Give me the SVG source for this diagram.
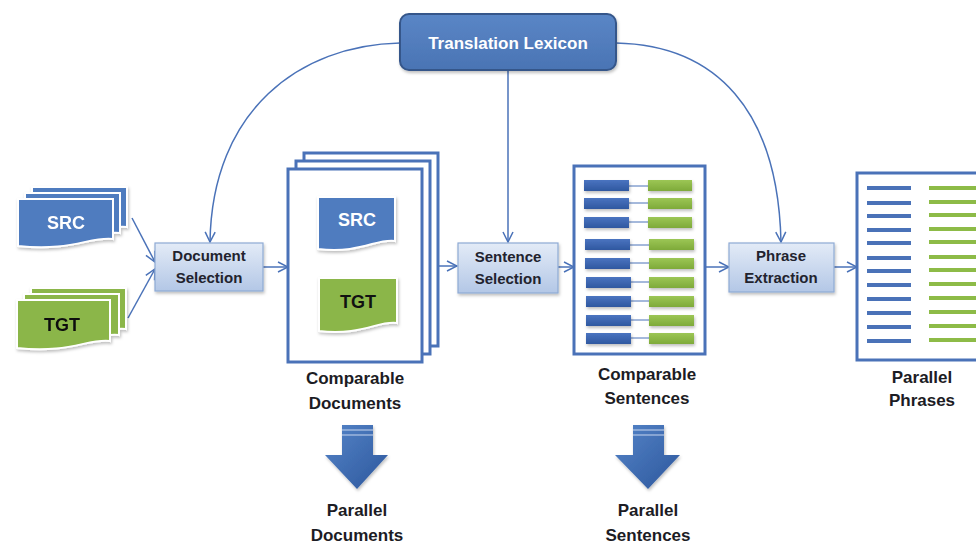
<svg xmlns="http://www.w3.org/2000/svg" width="976" height="548" viewBox="0 0 976 548">
<defs>
<linearGradient id="procG" x1="0" y1="0" x2="0" y2="1"><stop offset="0" stop-color="#e3ebf7"/><stop offset="1" stop-color="#b3c7e6"/></linearGradient>
<linearGradient id="lexG" x1="0" y1="0" x2="0" y2="1"><stop offset="0" stop-color="#5a86c6"/><stop offset="1" stop-color="#4a74b4"/></linearGradient>
<linearGradient id="blueBar" x1="0" y1="0" x2="0" y2="1"><stop offset="0" stop-color="#4a74c0"/><stop offset="1" stop-color="#2f58a0"/></linearGradient>
<linearGradient id="greenBar" x1="0" y1="0" x2="0" y2="1"><stop offset="0" stop-color="#9cc655"/><stop offset="1" stop-color="#7eaa3a"/></linearGradient>
<linearGradient id="bigArrow" x1="0" y1="0" x2="1" y2="1"><stop offset="0" stop-color="#5584c8"/><stop offset="1" stop-color="#2c579c"/></linearGradient>
<filter id="sh" x="-20%" y="-20%" width="140%" height="150%"><feDropShadow dx="1" dy="2" stdDeviation="1.5" flood-color="#000" flood-opacity="0.25"/></filter>
<marker id="arr" viewBox="0 0 12 12" refX="11" refY="6" markerWidth="12" markerHeight="12" markerUnits="userSpaceOnUse" orient="auto"><path d="M1,1 L11,6 L1,11" fill="none" stroke="#4a72b8" stroke-width="1.5"/></marker>
</defs>
<style>
.conn{fill:none;stroke:#4a72b8;stroke-width:1.5}
.proc{fill:url(#procG);stroke:#8eaad4;stroke-width:1.2}
.ptxt{font-family:"Liberation Sans",Arial,sans-serif;font-weight:bold;font-size:15px;fill:#22232e;text-anchor:middle}
.lbl{font-family:"Liberation Sans",Arial,sans-serif;font-weight:bold;font-size:17px;fill:#1c1c24;text-anchor:middle}
.doctxt{font-family:"Liberation Sans",Arial,sans-serif;font-weight:bold;font-size:18px;text-anchor:middle}
.srcf{fill:#4f7bbf;stroke:#ffffff;stroke-width:2}
.tgtf{fill:#8bb648;stroke:#ffffff;stroke-width:2}
.frame{fill:#ffffff;stroke:#4a72b8;stroke-width:3}
.bl{stroke:#4a72b8;stroke-width:4}
.gl{stroke:#8dbb47;stroke-width:4}
.link{stroke:#4a72b8;stroke-width:1}
</style>

<g id="connectors">
<path class="conn" d="M400,43 C300,45 212,110 210,242" marker-end="url(#arr)"/>
<path class="conn" d="M616,43 C716,45 778,110 781,242" marker-end="url(#arr)"/>
<path class="conn" d="M508,70 V242" marker-end="url(#arr)"/>
<path class="conn" d="M132,218 L155,262" marker-end="url(#arr)"/>
<path class="conn" d="M128,318 L155,269" marker-end="url(#arr)"/>
<path class="conn" d="M263,267 H288" marker-end="url(#arr)"/>
<path class="conn" d="M422,266 H457" marker-end="url(#arr)"/>
<path class="conn" d="M558,267 H574" marker-end="url(#arr)"/>
<path class="conn" d="M705,267 H729" marker-end="url(#arr)"/>
<path class="conn" d="M834,267 H857" marker-end="url(#arr)"/>
</g>

<g id="translation-lexicon">
<rect x="400" y="14" width="216" height="56" rx="9" fill="url(#lexG)" stroke="#35568a" stroke-width="2" filter="url(#sh)"/>
<text x="508" y="49" font-family="Liberation Sans, Arial, sans-serif" font-weight="bold" font-size="17" fill="#ffffff" text-anchor="middle">Translation Lexicon</text>
</g>

<g id="src-stack" filter="url(#sh)">
<path class="srcf" d="M32,187 H127 V227 C105,224 85,240 32,234 Z"/>
<path class="srcf" d="M25,193 H120 V233 C98,230 78,246 25,240 Z"/>
<path class="srcf" d="M18,199 H113 V239 C91,236 71,252 18,246 Z"/>
<text class="doctxt" x="66" y="229" fill="#ffffff">SRC</text>
</g>

<g id="tgt-stack" filter="url(#sh)">
<path class="tgtf" d="M31,288 H126 V329 C104,326 84,342 31,336 Z"/>
<path class="tgtf" d="M24,294 H119 V335 C97,332 77,348 24,342 Z"/>
<path class="tgtf" d="M17,300 H110 V341 C89,338 69,354 17,348 Z"/>
<text class="doctxt" x="62" y="331" fill="#111111">TGT</text>
</g>

<g id="document-selection">
<rect class="proc" x="155" y="243" width="108" height="48" filter="url(#sh)"/>
<text class="ptxt" x="209" y="261">Document</text>
<text class="ptxt" x="209" y="283">Selection</text>
</g>

<g id="comparable-documents">
<rect class="frame" x="304" y="153" width="134" height="193"/>
<rect class="frame" x="296" y="161" width="134" height="193"/>
<rect class="frame" x="288" y="169" width="134" height="193"/>
<g filter="url(#sh)">
<path class="srcf" d="M318,197 H395 V241 C377,238 361,254 318,249 Z"/>
<path class="tgtf" d="M319,278 H397 V323 C379,320 362,336 319,331 Z"/>
</g>
<text class="doctxt" x="357" y="226" fill="#ffffff">SRC</text>
<text class="doctxt" x="358" y="308" fill="#111111">TGT</text>
<text class="lbl" x="355" y="384">Comparable</text>
<text class="lbl" x="355" y="409">Documents</text>
</g>

<g id="sentence-selection">
<rect class="proc" x="458" y="243" width="100" height="50" filter="url(#sh)"/>
<text class="ptxt" x="508" y="262">Sentence</text>
<text class="ptxt" x="508" y="284">Selection</text>
</g>

<g id="comparable-sentences">
<rect class="frame" x="574" y="166" width="131" height="188"/>
<g class="link">
<line x1="629" y1="186" x2="648" y2="186"/><line x1="629" y1="203" x2="648" y2="203"/><line x1="629" y1="222" x2="648" y2="222"/>
<line x1="630" y1="245" x2="649" y2="245"/><line x1="630" y1="263" x2="649" y2="263"/><line x1="630" y1="282" x2="649" y2="282"/>
<line x1="630" y1="301" x2="649" y2="301"/><line x1="630" y1="320" x2="649" y2="320"/><line x1="630" y1="338" x2="649" y2="338"/>
</g>
<g fill="url(#blueBar)" filter="url(#sh)">
<rect x="584" y="180" width="45" height="11"/><rect x="584" y="198" width="45" height="11"/><rect x="584" y="217" width="45" height="11"/>
<rect x="585" y="239" width="45" height="11"/><rect x="585" y="258" width="45" height="11"/><rect x="586" y="277" width="45" height="11"/>
<rect x="586" y="296" width="45" height="11"/><rect x="586" y="315" width="45" height="11"/><rect x="586" y="333" width="45" height="11"/>
</g>
<g fill="url(#greenBar)" filter="url(#sh)">
<rect x="648" y="180" width="44" height="11"/><rect x="648" y="198" width="44" height="11"/><rect x="648" y="217" width="44" height="11"/>
<rect x="649" y="239" width="45" height="11"/><rect x="649" y="258" width="45" height="11"/><rect x="649" y="277" width="45" height="11"/>
<rect x="649" y="296" width="45" height="11"/><rect x="649" y="315" width="45" height="11"/><rect x="649" y="333" width="45" height="11"/>
</g>
<text class="lbl" x="647" y="380">Comparable</text>
<text class="lbl" x="647" y="404">Sentences</text>
</g>

<g id="phrase-extraction">
<rect class="proc" x="729" y="243" width="105" height="49" filter="url(#sh)"/>
<text class="ptxt" x="781" y="261">Phrase</text>
<text class="ptxt" x="781" y="283">Extraction</text>
</g>

<g id="parallel-phrases">
<rect class="frame" x="857" y="173" width="130" height="187"/>
<g class="bl">
<line x1="867" y1="188" x2="911" y2="188"/><line x1="867" y1="203" x2="911" y2="203"/><line x1="867" y1="216" x2="911" y2="216"/>
<line x1="867" y1="230" x2="911" y2="230"/><line x1="867" y1="243" x2="911" y2="243"/><line x1="867" y1="258" x2="911" y2="258"/>
<line x1="867" y1="271" x2="911" y2="271"/><line x1="867" y1="285" x2="911" y2="285"/><line x1="867" y1="299" x2="911" y2="299"/>
<line x1="867" y1="313" x2="911" y2="313"/><line x1="867" y1="327" x2="911" y2="327"/><line x1="867" y1="341" x2="911" y2="341"/>
</g>
<g class="gl">
<line x1="929" y1="188" x2="976" y2="188"/><line x1="929" y1="202" x2="976" y2="202"/><line x1="929" y1="215" x2="976" y2="215"/>
<line x1="929" y1="229" x2="976" y2="229"/><line x1="929" y1="242" x2="976" y2="242"/><line x1="929" y1="257" x2="976" y2="257"/>
<line x1="929" y1="270" x2="976" y2="270"/><line x1="929" y1="284" x2="976" y2="284"/><line x1="929" y1="298" x2="976" y2="298"/>
<line x1="929" y1="312" x2="976" y2="312"/><line x1="929" y1="326" x2="976" y2="326"/><line x1="929" y1="340" x2="976" y2="340"/>
</g>
<text class="lbl" x="922" y="383">Parallel</text>
<text class="lbl" x="922" y="406">Phrases</text>
</g>

<g id="parallel-documents">
<path d="M342,425 H373 V455 H388 L357,489 L325,455 H342 Z" fill="url(#bigArrow)" filter="url(#sh)"/>
<line x1="342" y1="430" x2="373" y2="430" stroke="#c8d6ee" stroke-width="1"/>
<line x1="342" y1="435" x2="373" y2="435" stroke="#c8d6ee" stroke-width="1"/>
<text class="lbl" x="357" y="516">Parallel</text>
<text class="lbl" x="357" y="541">Documents</text>
</g>

<g id="parallel-sentences">
<path d="M633,425 H664 V455 H680 L648,489 L615,455 H633 Z" fill="url(#bigArrow)" filter="url(#sh)"/>
<line x1="633" y1="430" x2="664" y2="430" stroke="#c8d6ee" stroke-width="1"/>
<line x1="633" y1="435" x2="664" y2="435" stroke="#c8d6ee" stroke-width="1"/>
<text class="lbl" x="648" y="516">Parallel</text>
<text class="lbl" x="648" y="541">Sentences</text>
</g>
</svg>
